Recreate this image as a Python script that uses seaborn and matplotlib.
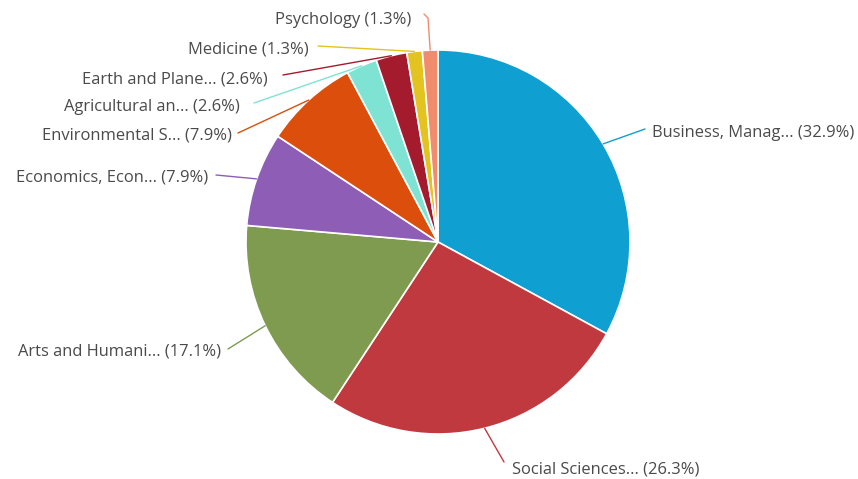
import numpy as np
import matplotlib
matplotlib.use("Agg")
import matplotlib.pyplot as plt
import seaborn as sns

# Subject areas and their share of documents (%)
categories = [
    "Business, Manag...",
    "Social Sciences...",
    "Arts and Humani...",
    "Economics, Econ...",
    "Environmental S...",
    "Agricultural an...",
    "Earth and Plane...",
    "Medicine",
    "Psychology",
]
shares = [32.9, 26.3, 17.1, 7.9, 7.9, 2.6, 2.6, 1.3, 1.3]

slice_colors = ["#0f9fd1", "#c0393f", "#7e9b4f", "#8e5db6", "#db4e0b",
                "#7fe3d4", "#a31b2c", "#e2c31f", "#f08b6b"]

sns.set_theme(style="white")
plt.rcParams["font.family"] = ["Open Sans", "DejaVu Sans"]

W, H = 858, 479
CX, CY, R = 438, 242, 192  # pie centre and radius in pixels

fig = plt.figure(figsize=(W / 100, H / 100), dpi=100)
ax = fig.add_axes([(CX - R) / W, (H - CY - R) / H, 2 * R / W, 2 * R / H])

palette = sns.color_palette(slice_colors)
wedges, _ = ax.pie(shares, colors=palette, startangle=90, counterclock=False,
                   radius=1.0, wedgeprops=dict(edgecolor="white", linewidth=1.2))
ax.set_xlim(-1, 1)
ax.set_ylim(-1, 1)
ax.set_aspect("equal")
ax.axis("off")


def px(x, y):
    """Pixel position -> data coordinates of the pie axes."""
    return (x - CX) / R, (CY - y) / R


# Label placement (pixels): text anchor, alignment, connector waypoints
label_layout = [
    ((652, 133), "left", [(645, 129)]),
    ((512, 469), "left", [(504, 462)]),
    ((221, 351), "right", [(228, 349)]),
    ((208, 177), "right", [(216, 175)]),
    ((232, 135), "right", [(238, 133)]),
    ((240, 107), "right", [(254, 103)]),
    ((268, 79), "right", [(283, 75)]),
    ((309, 49), "right", [(318, 46)]),
    ((411, 20), "right", [(428, 18), (424, 14)]),
]

for w, name, val, col, (anchor, ha, pts) in zip(wedges, categories, shares,
                                                palette, label_layout):
    mid = np.deg2rad((w.theta1 + w.theta2) / 2)
    sx, sy = 1.0 * np.cos(mid), 1.0 * np.sin(mid)
    xs = [sx] + [px(*p)[0] for p in pts]
    ys = [sy] + [px(*p)[1] for p in pts]
    ax.plot(xs, ys, color=col, lw=1.0, clip_on=False, solid_capstyle="round")
    tx, ty = px(*anchor)
    ax.text(tx, ty, f"{name} ({val}%)", ha=ha, va="center",
            fontsize=11.9, color="#4a4a4a", clip_on=False)

fig.savefig("out.png", dpi=100, facecolor="white")
